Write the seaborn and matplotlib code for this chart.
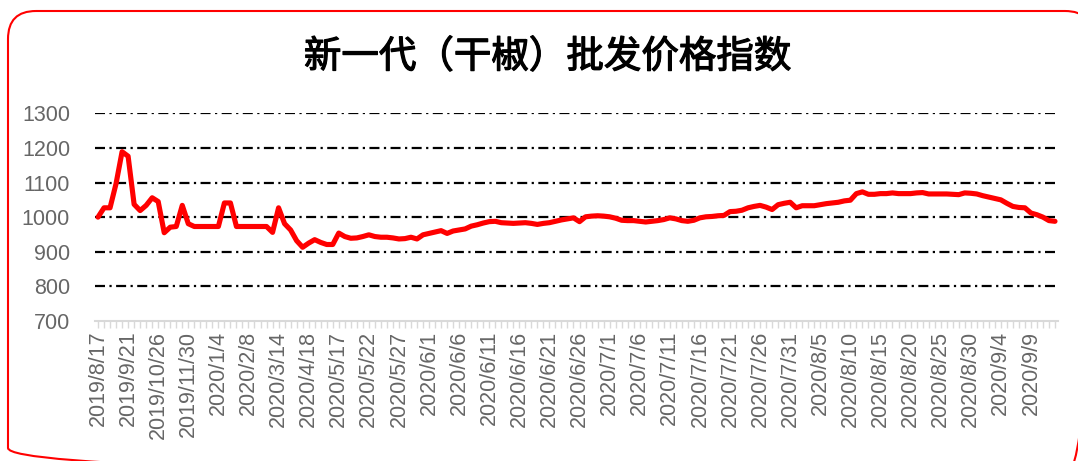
import matplotlib
matplotlib.use("Agg")
import matplotlib.pyplot as plt
import matplotlib.patheffects as pe
from matplotlib.patches import FancyBboxPatch
import pandas as pd
import seaborn as sns
import datetime as dt

TITLE = "新一代（干椒）批发价格指数"

# weekly until 2020/4/18, then a few gap weeks, then daily from 2020/5/17
weekly_start = dt.date(2019, 8, 17)
dates = [weekly_start + dt.timedelta(days=7 * k) for k in range(36)]
dates += [dt.date(2020, 4, 25), dt.date(2020, 5, 2), dt.date(2020, 5, 9), dt.date(2020, 5, 16)]
dates += [dt.date(2020, 5, 17) + dt.timedelta(days=k) for k in range(120)]
date_labels = ["%d/%d/%d" % (d.year, d.month, d.day) for d in dates]

index_values = [
    1000, 1027, 1027, 1097, 1189, 1176, 1037, 1019, 1034, 1056,
    1045, 955, 971, 973, 1034, 981, 973, 973, 973, 973,
    973, 1041, 1041, 973, 973, 973, 973, 973, 973, 956,
    1027, 981, 963, 932, 913, 925, 935, 927, 921, 921,
    954, 944, 939, 940, 944, 949, 944, 942, 942, 940,
    937, 938, 942, 937, 949, 953, 957, 961, 953, 960,
    963, 966, 974, 978, 983, 987, 988, 984, 983, 982,
    983, 984, 982, 979, 982, 984, 988, 992, 995, 998,
    987, 1001, 1003, 1004, 1003, 1001, 997, 991, 990, 990,
    988, 986, 988, 990, 993, 998, 995, 990, 988, 991,
    998, 1001, 1002, 1004, 1005, 1016, 1017, 1020, 1027, 1031,
    1034, 1029, 1022, 1036, 1040, 1043, 1027, 1033, 1033, 1033,
    1036, 1039, 1041, 1043, 1047, 1049, 1068, 1073, 1066, 1066,
    1068, 1068, 1070, 1068, 1068, 1068, 1070, 1071, 1067, 1067,
    1067, 1067, 1066, 1065, 1070, 1069, 1067, 1062, 1058, 1054,
    1050, 1040, 1031, 1028, 1027, 1012, 1007, 1000, 990, 988,
]

y_ticks = [700, 800, 900, 1000, 1100, 1200, 1300]

df = pd.DataFrame({"pos": range(len(index_values)), "value": index_values, "date": date_labels})

sns.set_style("white")
plt.rcParams["font.family"] = ["Liberation Sans", "Noto Sans CJK SC", "DejaVu Sans"]

fig = plt.figure(figsize=(10.78, 4.61), dpi=100)

# rounded red frame, drawn in pixel coordinates on a background axes
bg = fig.add_axes([0, 0, 1, 1])
bg.set_xlim(0, 1078)
bg.set_ylim(461, 0)
bg.axis("off")
bg.add_patch(FancyBboxPatch((8, 11), 1085, 465, boxstyle="round,pad=0,rounding_size=28",
                            edgecolor="#ff0000", facecolor="none", linewidth=1.5))

# title a bit heavier than regular weight
fig.text(0.508, 0.876, TITLE, ha="center", va="center", fontsize=27,
         family=["Noto Sans CJK SC", "DejaVu Sans"], color="black",
         path_effects=[pe.withStroke(linewidth=0.9, foreground="black")])

ax = fig.add_axes([95 / 1078, 1 - 321 / 461, (1058 - 95) / 1078, (321 - 113.3) / 461])
ax.patch.set_alpha(0)

# dash-dot gridlines
for yv in y_ticks[1:]:
    ax.axhline(yv, color="black", linewidth=1.6, linestyle=(0, (4.5, 2, 1, 2)), zorder=1)

sns.lineplot(data=df, x="pos", y="value", ax=ax, color="#ff0000", linewidth=3.7, zorder=3)

ax.set_xlim(-0.5, len(index_values) - 0.5)
ax.set_ylim(700, 1300)
ax.set_yticks(y_ticks)
ax.set_yticklabels([str(v) for v in y_ticks], fontsize=15.5, color="#666666")

ax.set_xticks(range(len(index_values)))
ax.set_xticklabels([lab if i % 5 == 0 else "" for i, lab in enumerate(date_labels)],
                   rotation=90, fontsize=15.5, color="#666666")
ax.tick_params(axis="x", length=5, width=1, color="#d9d9d9", pad=2, direction="out", bottom=True)
ax.tick_params(axis="y", length=0, pad=18)

ax.set_xlabel("")
ax.set_ylabel("")
for side in ["left", "right", "top"]:
    ax.spines[side].set_visible(False)
ax.spines["bottom"].set_color("#d9d9d9")
ax.spines["bottom"].set_linewidth(1.5)

fig.savefig("out.png", dpi=100)
